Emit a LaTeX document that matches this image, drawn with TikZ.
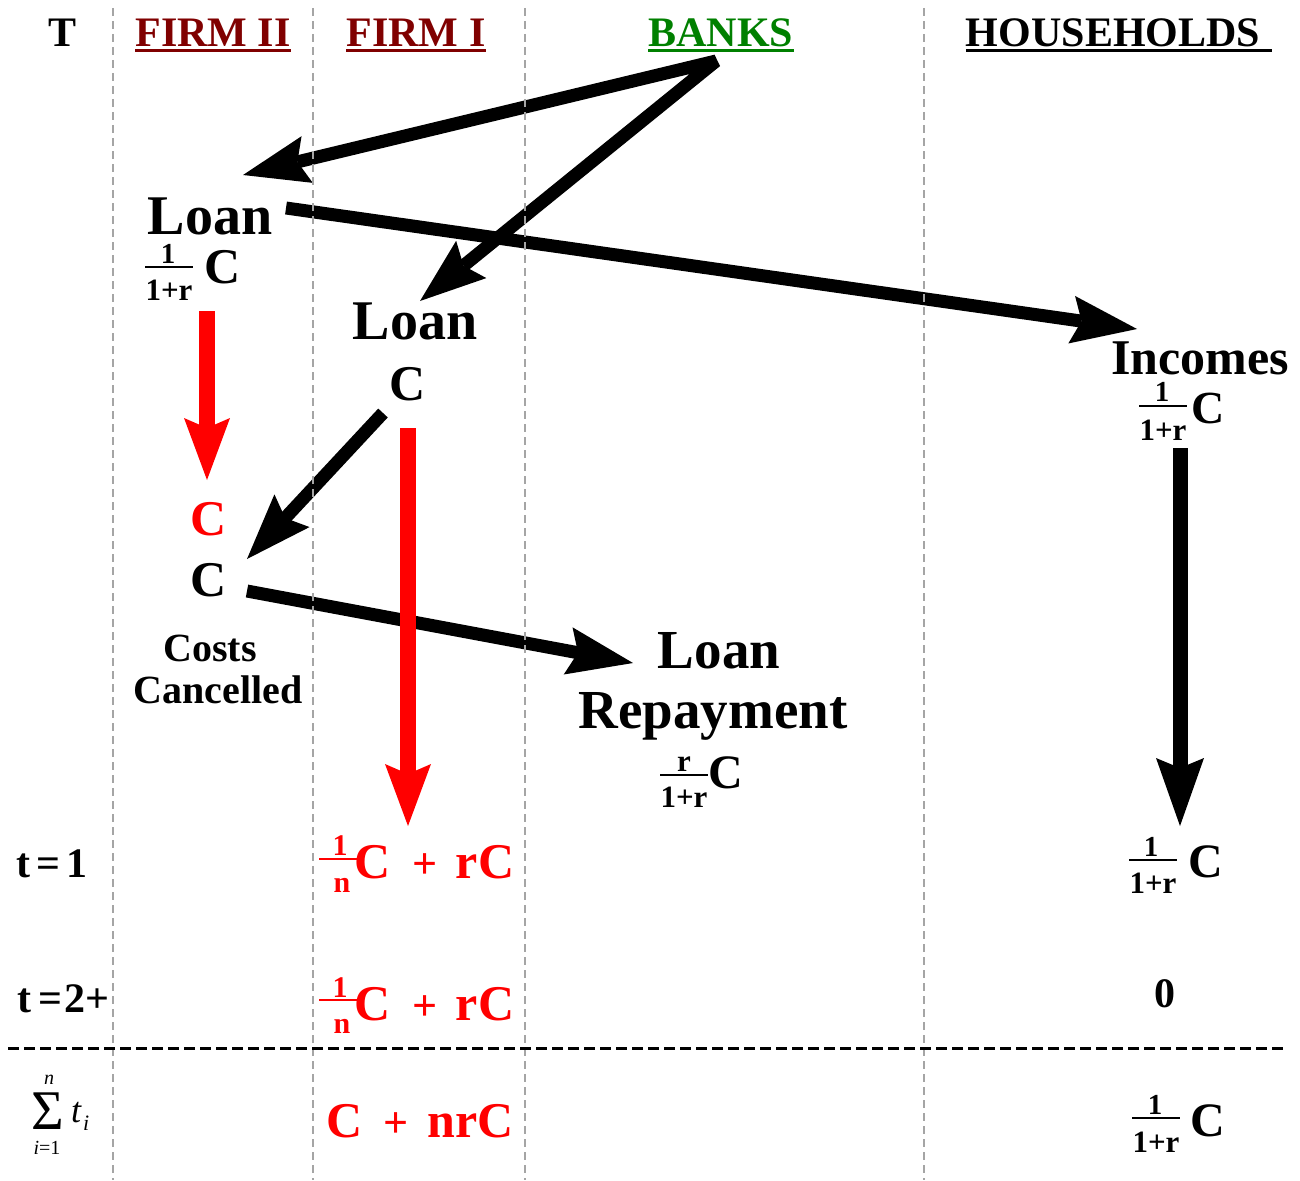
\documentclass[tikz,border=0pt]{standalone}
\usepackage{fontspec}
\setmainfont{Liberation Serif}
\usetikzlibrary{arrows.meta}
\definecolor{firmred}{RGB}{128,0,0}
\definecolor{bankgreen}{RGB}{0,128,0}
\definecolor{gridgray}{RGB}{165,165,165}
\definecolor{pured}{RGB}{255,0,0}
\tikzset{
  hdr/.style={font=\bfseries\fontsize{42}{46}\selectfont, inner sep=0pt, anchor=base},
  lbl/.style={font=\bfseries\fontsize{#1}{#1}\selectfont, inner sep=0pt, anchor=base},
  lbl/.default=50,
  fpart/.style={font=\bfseries\fontsize{#1}{#1}\selectfont, inner sep=0pt, anchor=base},
  fpart/.default=31,
  ital/.style={font=\itshape\fontsize{#1}{#1}\selectfont, inner sep=0pt, anchor=base},
  rmn/.style={font=\fontsize{#1}{#1}\selectfont, inner sep=0pt, anchor=base},
  fbar/.style={line width=2pt},
  uline/.style={line width=3pt},
  vsep/.style={gridgray, line width=1.3pt, dash pattern=on 8pt off 5pt},
  hsep/.style={black, line width=3pt, dash pattern=on 11pt off 5pt},
  tipblk/.style={-{Stealth[length=66pt,width=48pt,inset=10pt,line width=0pt]}},
  blk/.style={line width=13pt, tipblk},
  blkdbl/.style={line width=13pt, line join=bevel,
    {Stealth[length=66pt,width=48pt,inset=10pt,line width=0pt]}-{Stealth[length=66pt,width=48pt,inset=10pt,line width=0pt]}},
  blkv/.style={line width=15pt, -{Stealth[length=68pt,width=48pt,inset=10pt,line width=0pt]}},
  redarr/.style={pured, line width=16pt, -{Stealth[length=62pt,width=46pt,inset=10pt,line width=0pt]}},
}
\begin{document}
\begin{tikzpicture}[x=1pt,y=-1pt]
\path[use as bounding box] (0,0) rectangle (1300,1180);

% ---- connector end points
\coordinate (bk) at (716,61);
\coordinate (tipA) at (243,175);
\coordinate (tipB) at (420,301);
\coordinate (a3s) at (286,208);
\coordinate (a3e) at (1137,329);
\coordinate (a4s) at (383,413);
\coordinate (a4e) at (247,559);
\coordinate (a5s) at (247,591);
\coordinate (a5e) at (633,663);
\coordinate (r6s) at (207,311);
\coordinate (r6e) at (207,480);
\coordinate (r7s) at (408,428);
\coordinate (r7e) at (408,826);
\coordinate (a8s) at (1180,448);
\coordinate (a8e) at (1180,826);

% ---- black arrows
\draw[blkdbl] (tipA) -- (bk) -- (tipB);
\draw[blk] (a3s) -- (a3e);
\draw[blk] (a4s) -- (a4e);
\draw[blk] (a5s) -- (a5e);
\draw[blkv] (a8s) -- (a8e);

% ---- column separators and total line
\foreach \xx in {113,313,525,924} \draw[vsep] (\xx,8) -- (\xx,1180);
\draw[hsep] (8,1048) -- (1286,1048);

% ---- red arrows
\draw[redarr] (r6s) -- (r6e);
\draw[redarr] (r7s) -- (r7e);

% ---- headers
\node[hdr] (hT) at (63,47) {T};
\node[hdr, firmred] (hF2) at (213,47) {FIRM II};
\node[hdr, firmred] (hF1) at (416,47) {FIRM I};
\node[hdr, bankgreen] (hB) at (721,47) {BANKS};
\node[hdr] (hH) at (1113,47) {HOUSEHOLDS};
\draw[uline, firmred] ([yshift=-3.5pt]hF2.base west) -- ([yshift=-3.5pt]hF2.base east);
\draw[uline, firmred] ([yshift=-3.5pt]hF1.base west) -- ([yshift=-3.5pt]hF1.base east);
\draw[uline, bankgreen] ([yshift=-3.5pt]hB.base west) -- ([yshift=-3.5pt]hB.base east);
\draw[uline] ([yshift=-3.5pt]hH.base west) -- ([xshift=12pt,yshift=-3.5pt]hH.base east);

% ---- Firm II loan
\node[lbl=56] (loanA) at (210,234) {Loan};
\node[fpart=29] (fAn) at (168,263) {1};
\node[fpart] (fAd) at (169,300) {1+r};
\draw[fbar] (fAd.west |- 0,267) -- (fAd.east |- 0,267);
\node[lbl=50] (cA) at (223,283) {C};

% ---- Firm I loan
\node[lbl=56] (loanB) at (415,339) {Loan};
\node[lbl=50] (cB) at (408,400) {C};

% ---- cancelled costs
\node[lbl=50, pured] (cR) at (209,535) {C};
\node[lbl=50] (cK) at (209,596) {C};
\node[lbl=40] (costs) at (210,661) {Costs};
\node[lbl=40] (canc) at (218,703) {Cancelled};

% ---- loan repayment
\node[lbl=55] (rep1) at (719,668) {Loan};
\node[lbl=55] (rep2) at (713,728) {Repayment};
\node[fpart] (fRn) at (684,771) {r};
\node[fpart] (fRd) at (684,807) {1+r};
\draw[fbar] (fRd.west |- 0,775) -- (fRd.east |- 0,775);
\node[lbl=48] (cRp) at (726,788) {C};

% ---- incomes
\node[lbl=50] (inc) at (1200,374) {Incomes};
\node[fpart=29] (fIn) at (1162,401) {1};
\node[fpart] (fId) at (1163,440) {1+r};
\draw[fbar] (fId.west |- 0,406) -- (fId.east |- 0,406);
\node[lbl=46] (cI) at (1208,423) {C};

% ---- period rows
\node[hdr, anchor=base west] (t1) at (16,877) {t\hspace{6pt}=\hspace{6pt}1};
\node[hdr, anchor=base west] (t2) at (17,1012) {t\hspace{7pt}=\hspace{2pt}2+};

% firm I, t=1
\node[fpart=30, pured] (p1n) at (340,855) {1};
\node[fpart=30, pured] (p1d) at (342,892) {n};
\draw[fbar, pured] (319,859) -- (358,859);
\node[lbl=50, pured] (p1c) at (373,878) {C};
\node[lbl=44, pured] (p1p) at (425,878) {+};
\node[lbl=50, pured] (p1r) at (485,878) {rC};

% firm I, t=2+
\node[fpart=30, pured] (p2n) at (340,997) {1};
\node[fpart=30, pured] (p2d) at (342,1033) {n};
\draw[fbar, pured] (319,1000) -- (358,1000);
\node[lbl=50, pured] (p2c) at (373,1020) {C};
\node[lbl=44, pured] (p2p) at (425,1020) {+};
\node[lbl=50, pured] (p2r) at (485,1020) {rC};

% households rows
\node[fpart=29] (h1n) at (1151,856) {1};
\node[fpart] (h1d) at (1153,893) {1+r};
\draw[fbar] (h1d.west |- 0,860) -- (h1d.east |- 0,860);
\node[lbl=48] (h1c) at (1206,877) {C};
\node[lbl=42] (h2) at (1165,1007) {0};

% sums
\node[rmn=56] (sig) at (48,1129) {Σ};
\node[ital=20] (sigN) at (49,1084) {n};
\node[rmn=20] (sigI) at (47,1154) {\itshape i\upshape =1};
\node[ital=36, anchor=base west] (sigT) at (71,1122) {t};
\node[ital=22, anchor=base west] (sigTi) at (83,1130) {i};

\node[lbl=50, pured] (s1c) at (345,1137) {C};
\node[lbl=44, pured] (s1p) at (396,1137) {+};
\node[lbl=50, pured] (s1r) at (471,1137) {nrC};

\node[fpart=29] (s2n) at (1155,1114) {1};
\node[fpart] (s2d) at (1156,1152) {1+r};
\draw[fbar] (s2d.west |- 0,1118) -- (s2d.east |- 0,1118);
\node[lbl=48] (s2c) at (1208,1136) {C};
\end{tikzpicture}
\end{document}
